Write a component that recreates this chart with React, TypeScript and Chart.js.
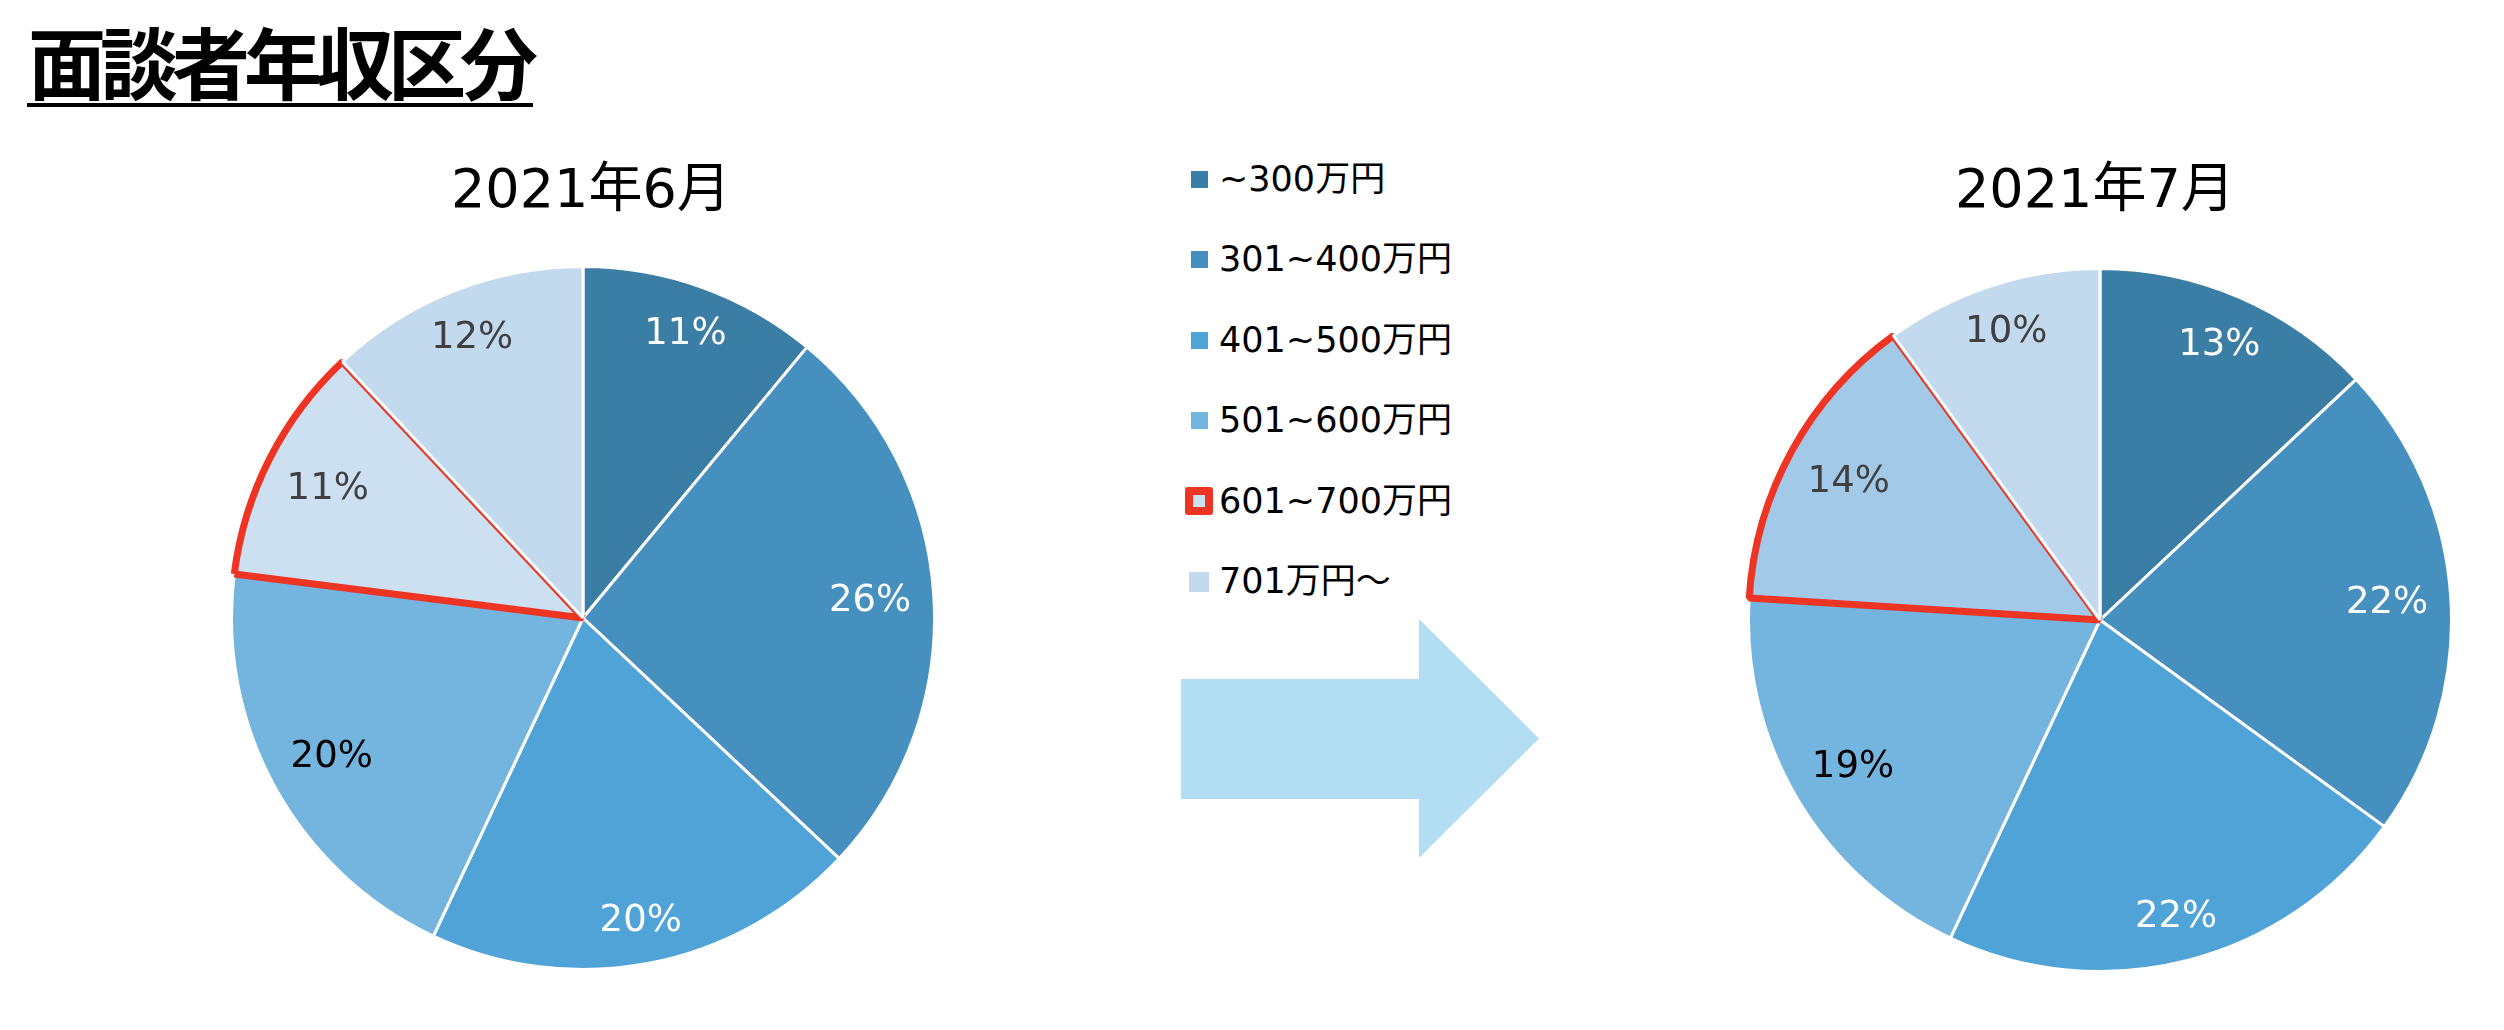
import React, { useEffect, useRef } from "react";
import { Chart, registerables } from "chart.js";

Chart.register(...registerables);

const categories = ["~300万円", "301~400万円", "401~500万円", "501~600万円", "601~700万円", "701万円～"];
const juneValues = [11, 26, 20, 20, 11, 12];
const julyValues = [13, 22, 22, 19, 14, 10];
const juneTitle = "2021年6月";
const julyTitle = "2021年7月";
const pageTitle = "面談者年収区分";

const RED = "#EE3524";
const juneColors = ["#3B7EA5", "#4590BF", "#4FA3D7", "#74B5E0", "#CCE0F1", "#C3D9EE"];
const julyColors = ["#3B7EA5", "#4590BF", "#4FA3D7", "#74B5E0", "#A3C9E9", "#C3D9EE"];
const legendColors = ["#3B7EA5", "#4590BF", "#4FA3D7", "#74B5E0", "#CCE0F1", "#C3D9EE"];
const labelColors = ["#FFFFFF", "#FFFFFF", "#FFFFFF", "#000000", "#404040", "#404040"];
const highlightIndex = 4;

const FONT = "'DejaVu Sans', 'Noto Sans CJK JP', sans-serif";
const PIE_SIZE = 710;

const percentLabels = {
  id: "percentLabels",
  afterDatasetsDraw(chart: any) {
    const ctx = chart.ctx;
    const meta = chart.getDatasetMeta(0);
    const data = chart.data.datasets[0].data;
    ctx.save();
    ctx.font = `37px ${FONT}`;
    ctx.textAlign = "center";
    ctx.textBaseline = "middle";
    meta.data.forEach((arc: any, i: number) => {
      const a = (arc.startAngle + arc.endAngle) / 2;
      const text = `${data[i]}%`;
      const hw = ctx.measureText(text).width / 2;
      const hh = 14;
      const r = arc.outerRadius - 22 - (Math.abs(Math.cos(a)) * hw + Math.abs(Math.sin(a)) * hh);
      const x = arc.x + Math.cos(a) * r;
      const y = arc.y + Math.sin(a) * r;
      ctx.fillStyle = labelColors[i];
      ctx.fillText(text, x, y + 1);
    });
    ctx.restore();
  },
};

function Pie({ values, colors, left, top }: { values: number[]; colors: string[]; left: number; top: number }) {
  const ref = useRef<HTMLCanvasElement | null>(null);
  useEffect(() => {
    if (!ref.current) return;
    const chart = new Chart(ref.current, {
      type: "pie",
      data: {
        labels: categories,
        datasets: [
          {
            data: values,
            backgroundColor: colors,
            borderColor: categories.map((_, i) => (i === highlightIndex ? RED : "#FFFFFF")),
            borderWidth: categories.map((_, i) => (i === highlightIndex ? 7 : 3)),
            hoverOffset: 0,
            hoverBorderWidth: 0,
          } as any,
        ],
      },
      options: {
        responsive: false,
        animation: false,
        events: [],
        layout: { padding: 0 },
        plugins: {
          legend: { display: false },
          tooltip: { enabled: false },
          title: { display: false },
        },
      },
      plugins: [percentLabels],
    });
    return () => chart.destroy();
  }, []);
  return (
    <canvas
      ref={ref}
      width={PIE_SIZE}
      height={PIE_SIZE}
      style={{ position: "absolute", left, top, width: PIE_SIZE, height: PIE_SIZE }}
    />
  );
}

const legendRowCenters = [179, 259.5, 340, 420.5, 501, 581.5];

export default function App() {
  const pieTitleStyle: React.CSSProperties = {
    position: "absolute",
    top: 162,
    fontFamily: FONT,
    fontSize: 54,
    lineHeight: "54px",
    whiteSpace: "nowrap",
    color: "#000",
  };
  return (
    <div style={{ position: "absolute", left: 0, top: 0, width: 2504, height: 1030, background: "#fff", overflow: "hidden" }}>
      <div
        style={{
          position: "absolute",
          left: 28,
          top: 21,
          fontFamily: "'Noto Sans CJK JP', sans-serif",
          fontWeight: 700,
          fontSize: 78,
          lineHeight: "78px",
          letterSpacing: -6,
          whiteSpace: "nowrap",
          color: "#000",
        }}
      >
        {pageTitle}
      </div>
      <div style={{ position: "absolute", left: 27, top: 103, width: 506, height: 4, background: "#000" }} />

      <div style={{ ...pieTitleStyle, left: 451 }}>{juneTitle}</div>
      <div style={{ ...pieTitleStyle, left: 1955 }}>{julyTitle}</div>

      <Pie values={juneValues} colors={juneColors} left={228} top={263} />
      <Pie values={julyValues} colors={julyColors} left={1745} top={265} />

      {categories.map((c, i) => {
        const cy = legendRowCenters[i];
        const hl = i === highlightIndex;
        const size = hl ? 28 : i === 5 ? 20 : 17;
        const mx = hl ? 1185 : i === 5 ? 1189 : 1191;
        return (
          <React.Fragment key={c}>
            <div
              style={{
                position: "absolute",
                left: mx,
                top: cy - size / 2,
                width: size,
                height: size,
                boxSizing: "border-box",
                background: legendColors[i],
                border: hl ? `8px solid ${RED}` : "none",
                borderRadius: hl ? 3 : 0,
              }}
            />
            <div
              style={{
                position: "absolute",
                left: 1219,
                top: cy - 17.5,
                height: 35,
                fontFamily: FONT,
                fontSize: 35,
                lineHeight: "35px",
                whiteSpace: "nowrap",
                color: "#000",
              }}
            >
              {c}
            </div>
          </React.Fragment>
        );
      })}

      <svg style={{ position: "absolute", left: 0, top: 0 }} width={2504} height={1030}>
        <polygon points="1181,679 1419,679 1419,619 1539,738.5 1419,858 1419,799 1181,799" fill="#B2DDF2" />
      </svg>
    </div>
  );
}
